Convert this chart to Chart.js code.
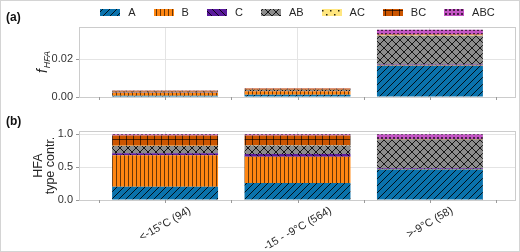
<!DOCTYPE html>
<html><head><meta charset="utf-8">
<script src="https://cdn.jsdelivr.net/npm/chart.js@4/dist/chart.umd.min.js"></script>
<style>
html,body{margin:0;padding:0;background:#fff;}
#wrap{position:relative;width:520px;height:252px;box-sizing:border-box;border:1px solid #d4d4d4;overflow:hidden;background:#fff;}
canvas{position:absolute;left:0;}
.pl{position:absolute;left:5px;font:bold 12px "Liberation Sans",Arial,sans-serif;color:#111;}
</style></head>
<body><div id="wrap">
<canvas id="ca" width="520" height="108" style="top:-1px;left:-1px"></canvas>
<canvas id="cb" width="520" height="144" style="top:107px;left:-1px"></canvas>
<div class="pl" style="top:9px">(a)</div>
<div class="pl" style="top:113px">(b)</div>
</div>
<script>
// ---- data ----
const categories = ['<-15°C (94)', '-15 - -9°C (564)', '>-9°C (58)'];
const types = ['A', 'B', 'C', 'AB', 'AC', 'BC', 'ABC'];
// panel (a): f_HFA per type
const fA   = [0.00068, 0.0012,  0.0165];
const fB   = [0.00163, 0.00184, 0.0003];
const fC   = [0.0001,  0.00018, 0.0004];
const fAB  = [0.00037, 0.0006,  0.0152];
const fAC  = [0.00002, 0.00002, 0.0002];
const fBC  = [0.00053, 0.00067, 0.0004];
const fABC = [0.00007, 0.00009, 0.0025];
// panel (b): HFA type contribution
const cA   = [0.20,  0.26,  0.465];
const cB   = [0.48,  0.40,  0.008];
const cC   = [0.03,  0.04,  0.012];
const cAB  = [0.11,  0.13,  0.43];
const cAC  = [0.005, 0.005, 0.005];
const cBC  = [0.155, 0.145, 0.01];
const cABC = [0.02,  0.02,  0.07];
// tick labels / positions
const yTicksA = [0, 0.02];
const yTicksB = [0, 0.5, 1.0];
const xMajor = [0, 1, 2];
const xMinor = [-0.5, 0.5, 1.5, 2.5];

Chart.defaults.font.family = '"Liberation Sans", Arial, sans-serif';
Chart.defaults.color = '#262626';

// ---- hatch patterns ----
const dummy = document.createElement('canvas').getContext('2d');
function pat(bg, w, h, draw) {
  const c = document.createElement('canvas'); c.width = w; c.height = h;
  const x = c.getContext('2d');
  x.fillStyle = bg; x.fillRect(0, 0, w, h);
  x.strokeStyle = 'rgba(0,0,0,0.85)'; x.fillStyle = 'rgba(0,0,0,0.85)'; x.lineWidth = 1;
  draw(x, w, h);
  return dummy.createPattern(c, 'repeat');
}
function fwd(x, w, h) { x.beginPath(); for (let k = -1; k <= 1; k++) { x.moveTo(k * w, h); x.lineTo(k * w + w, 0); } x.stroke(); }
function back(x, w, h) { x.beginPath(); for (let k = -1; k <= 1; k++) { x.moveTo(k * w, 0); x.lineTo(k * w + w, h); } x.stroke(); }
const patterns = {
  A: pat('#0a72ac', 7, 7, fwd),
  B: pat('#ff8612', 4, 4, (x) => { x.beginPath(); x.moveTo(0.5, 0); x.lineTo(0.5, 4); x.globalAlpha = 0.7; x.stroke(); }),
  C: pat('#5a1a9c', 7, 7, back),
  AB: pat('#8c8c8c', 8, 8, (x, w, h) => { fwd(x, w, h); back(x, w, h); }),
  AC: pat('#ffe680', 8, 8, (x) => { x.fillRect(2, 2, 1.5, 1.5); x.fillRect(6, 6, 1.5, 1.5); }),
  BC: pat('#cc5500', 7, 7, (x) => { x.beginPath(); x.moveTo(0.5, 0); x.lineTo(0.5, 7); x.moveTo(0, 3.5); x.lineTo(7, 3.5); x.globalAlpha = 0.75; x.stroke(); }),
  ABC: pat('#c455c4', 4, 4, (x) => { x.beginPath(); x.arc(2, 2, 1, 0, Math.PI * 2); x.fill(); })
};

const fSeries = [fA, fB, fC, fAB, fAC, fBC, fABC];
const cSeries = [cA, cB, cC, cAB, cAC, cBC, cABC];
function mk(series) {
  return types.map((t, k) => ({
    label: t,
    data: series[k].map((v, i) => ({ x: i, y: v })),
    backgroundColor: patterns[t],
    borderWidth: 0,
    barPercentage: 0.8,
    categoryPercentage: 1.0
  }));
}

const frame = {
  id: 'frame',
  beforeDatasetsDraw(chart) {
    const { ctx, chartArea: a } = chart;
    ctx.save(); ctx.strokeStyle = '#cccccc'; ctx.lineWidth = 1;
    ctx.strokeRect(Math.round(a.left) + 0.5, Math.round(a.top) + 0.5, Math.round(a.right - a.left) - 1, Math.round(a.bottom - a.top));
    ctx.restore();
  },
  afterDraw(chart) {
    const { ctx, chartArea: a } = chart; const xs = chart.scales.x;
    ctx.save(); ctx.strokeStyle = '#9a9a9a'; ctx.lineWidth = 1; ctx.beginPath();
    xMajor.concat(xMinor).forEach(v => { const p = Math.round(xs.getPixelForValue(v)) + 0.5; ctx.moveTo(p, a.bottom); ctx.lineTo(p, a.bottom + 3); });
    ctx.stroke(); ctx.restore();
  }
};

function opts(yTicks, ymax, padTop, xHeight) {
  return {
    responsive: false, animation: false, devicePixelRatio: 1,
    layout: { padding: { top: padTop, right: 4, left: 0, bottom: 0 } },
    plugins: { legend: { display: false }, tooltip: { enabled: false } },
    scales: {
      x: {
        type: 'linear', stacked: true, min: -0.65, max: 2.65, offset: false,
        afterBuildTicks: s => { s.ticks = xMajor.map(v => ({ value: v })); },
        afterFit: s => { s.height = xHeight; },
        ticks: { display: false },
        grid: { color: '#e4e4e4', drawTicks: false, offset: false },
        border: { display: false }
      },
      y: {
        stacked: true, min: 0, max: ymax,
        afterBuildTicks: s => { s.ticks = yTicks.map(v => ({ value: v })); },
        afterFit: s => { s.width = 79; },
        ticks: { font: { size: 11 }, padding: 3, color: '#333',
          callback: v => v.toFixed(ymax < 0.1 ? 2 : 1) },
        grid: { color: '#e4e4e4', tickLength: 3, tickColor: '#9a9a9a' },
        border: { display: false }
      }
    }
  };
}

const extraA = {
  id: 'extraA',
  afterDraw(chart) {
    const { ctx, chartArea: a } = chart;
    ctx.save();
    ctx.font = '11px "Liberation Sans", Arial, sans-serif';
    const bw = 20, gap1 = 8, gap2 = 18;
    const widths = types.map(t => bw + gap1 + ctx.measureText(t).width);
    const total = widths.reduce((s, w) => s + w, 0) + gap2 * (types.length - 1);
    let x = (a.left + a.right) / 2 - total / 2;
    const cy = 13;
    types.forEach((t, k) => {
      ctx.fillStyle = patterns[t];
      ctx.fillRect(Math.round(x), cy - 4, bw, 7);
      ctx.fillStyle = '#262626'; ctx.textBaseline = 'middle'; ctx.textAlign = 'left';
      ctx.fillText(t, x + bw + gap1, cy);
      x += widths[k] + gap2;
    });
    const my = (a.top + a.bottom) / 2;
    ctx.translate(47, my); ctx.rotate(-Math.PI / 2);
    ctx.font = 'italic 14px "Liberation Sans", Arial, sans-serif';
    const fw = ctx.measureText('f').width;
    ctx.font = 'italic 9px "Liberation Sans", Arial, sans-serif';
    const sw = ctx.measureText('HFA').width;
    const sx = -(fw + sw + 1) / 2;
    ctx.fillStyle = '#262626'; ctx.textBaseline = 'alphabetic'; ctx.textAlign = 'left';
    ctx.font = 'italic 14px "Liberation Sans", Arial, sans-serif';
    ctx.fillText('f', sx, 0);
    ctx.font = 'italic 9px "Liberation Sans", Arial, sans-serif';
    ctx.fillText('HFA', sx + fw + 1, 3);
    ctx.restore();
  }
};

const extraB = {
  id: 'extraB',
  afterDraw(chart) {
    const { ctx, chartArea: a } = chart; const xs = chart.scales.x;
    ctx.save();
    ctx.font = '11px "Liberation Sans", Arial, sans-serif';
    ctx.fillStyle = '#262626'; ctx.textAlign = 'center'; ctx.textBaseline = 'middle';
    categories.forEach((c, i) => {
      const L = ctx.measureText(c).width;
      const px = xs.getPixelForValue(i);
      const cy = a.bottom + 5 + L / 4 + 5.5 * 0.866;
      ctx.save(); ctx.translate(px, cy); ctx.rotate(-Math.PI / 6); ctx.fillText(c, 0, 0); ctx.restore();
    });
    const my = (a.top + a.bottom) / 2;
    ctx.translate(0, my); ctx.rotate(-Math.PI / 2);
    ctx.font = '12.5px "Liberation Sans", Arial, sans-serif';
    ctx.fillText('HFA', 0, 39);
    ctx.fillText('type contr.', 0, 51);
    ctx.restore();
  }
};

new Chart(document.getElementById('ca'), {
  type: 'bar',
  data: { datasets: mk(fSeries) },
  plugins: [frame, extraA],
  options: opts(yTicksA, 0.037, 27, 11)
});

new Chart(document.getElementById('cb'), {
  type: 'bar',
  data: { datasets: mk(cSeries) },
  plugins: [frame, extraB],
  options: opts(yTicksB, 1.05, 23, 52)
});
</script>
</body></html>
